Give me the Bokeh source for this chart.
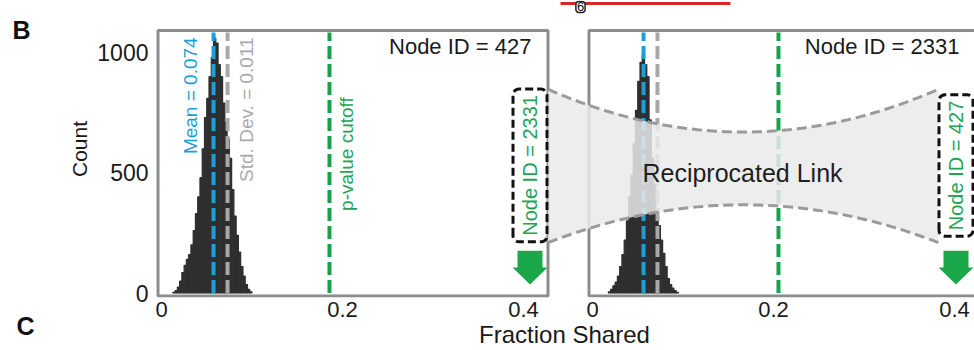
import math
from bokeh.plotting import figure
from bokeh.layouts import row
from bokeh.models import Range1d, FixedTicker, Label
from bokeh.core.properties import value
from bokeh.embed import file_html
from bokeh.resources import INLINE

# ---------------- data ----------------
bin_width = 0.0025
left_bin_starts = [0.0125, 0.015, 0.0175, 0.02, 0.0225, 0.025, 0.0275, 0.03, 0.0325, 0.035,
                   0.0375, 0.04, 0.0425, 0.045, 0.0475, 0.05, 0.0525, 0.055, 0.0575, 0.06,
                   0.0625, 0.065, 0.0675, 0.07, 0.0725, 0.075, 0.0775, 0.08, 0.0825, 0.085,
                   0.0875, 0.09, 0.0925, 0.095, 0.0975]
left_counts = [3, 10, 25, 50, 85, 115, 140, 160, 200, 260,
               330, 400, 480, 600, 730, 810, 900, 980, 1060, 1040,
               950, 900, 790, 710, 640, 560, 430, 320, 240, 170,
               110, 70, 35, 15, 5]
right_bin_starts = [0.0175, 0.02, 0.0225, 0.025, 0.0275, 0.03, 0.0325, 0.035, 0.0375, 0.04,
                    0.0425, 0.045, 0.0475, 0.05, 0.0525, 0.055, 0.0575, 0.06, 0.0625, 0.065,
                    0.0675, 0.07, 0.0725, 0.075, 0.0775, 0.08, 0.0825, 0.085, 0.0875, 0.09,
                    0.0925]
right_counts = [5, 15, 30, 45, 70, 110, 160, 220, 300, 400,
                490, 620, 760, 880, 960, 990, 950, 900, 720, 560,
                450, 340, 280, 220, 165, 110, 60, 35, 20, 10,
                3]

left_mean_x, left_sd_x, left_cutoff_x = 0.0575, 0.073, 0.1856
right_mean_x, right_sd_x, right_cutoff_x = 0.0564, 0.0718, 0.2055

x_ticks = [0.0, 0.2, 0.4]
x_tick_labels = ["0", "0.2", "0.4"]
y_ticks = [0, 500, 1000]

panel_titles = ["Node ID = 427", "Node ID = 2331"]
link_labels = ["Node ID = 2331", "Node ID = 427"]
mean_label = "Mean = 0.074"
sd_label = "Std. Dev. = 0.011"
cutoff_label = "p-value cutoff"

# ---------------- layout helpers (page pixels -> data) ----------------
LEFT_W = 50                   # width of the small letter strip
FRAME_BOTTOM = 298
X0_PX, SX = 161.0, 905.0      # page x of value 0 (left panel), px per unit
Y0_PX, SY = 293.5, 0.2412     # page y of count 0, px per count


def px2x(px):
    return (px - X0_PX) / SX


def py2y(py):
    return (Y0_PX - py) / SY


OFF = px2x(592)  # right panel origin

FONT = "Liberation Sans"
BLUE = "#1c9fd8"
GRAY = "#a8a8a8"
GREEN = "#18a14b"
DARK = "#2f2f2f"
FRAME = "#8c8c8c"

# ---------------- letter strip (B on top, C as its bottom title) ----------------
lf = figure(width=LEFT_W, height=350, x_range=Range1d(0, LEFT_W),
            y_range=Range1d(FRAME_BOTTOM, 0),
            min_border=0, min_border_bottom=350 - FRAME_BOTTOM, y_axis_type=None,
            output_backend="svg", toolbar_location=None,
            background_fill_color="white", border_fill_color="white",
            outline_line_color=None)
lf.grid.visible = False
lf.xaxis.ticker = FixedTicker(ticks=[])
lf.xaxis.axis_line_color = None
lf.xaxis.major_tick_line_color = None
lf.xaxis.minor_tick_line_color = None
lf.xaxis.major_tick_out = 0
lf.xaxis.minor_tick_out = 0
lf.xaxis.major_label_standoff = 0
lf.xaxis.axis_label = "C"
lf.xaxis.axis_label_text_font = FONT
lf.xaxis.axis_label_text_font_size = "25px"
lf.xaxis.axis_label_text_font_style = "bold"
lf.xaxis.axis_label_text_color = "#111111"
lf.xaxis.axis_label_standoff = 14
lf.text(x=[12], y=[30], text=["B"], text_align="left",
        text_baseline="alphabetic", text_color="#111111", text_font=value(FONT),
        text_font_size="25px", text_font_style="bold")

# ---------------- main figure ----------------
p = figure(width=974 - LEFT_W, height=350,
           x_range=Range1d(px2x(154), px2x(974)),
           y_range=Range1d(py2y(FRAME_BOTTOM), py2y(0)),
           min_border_left=154 - LEFT_W, min_border_right=0,
           min_border_top=0, min_border_bottom=350 - FRAME_BOTTOM,
           output_backend="svg", toolbar_location=None,
           background_fill_color="white", border_fill_color="white",
           outline_line_color=None)
p.grid.visible = False

tick_pos = [t for t in x_ticks] + [OFF + t for t in x_ticks]
p.xaxis.ticker = FixedTicker(ticks=tick_pos)
p.xaxis.major_label_overrides = {pos: lab for pos, lab in zip(tick_pos, x_tick_labels * 2)}
p.yaxis.ticker = FixedTicker(ticks=y_ticks)
p.yaxis.axis_label = "Count"
p.xaxis.axis_label = "Fraction Shared"
for ax in (p.xaxis[0], p.yaxis[0]):
    ax.axis_line_color = None
    ax.major_tick_line_color = None
    ax.minor_tick_line_color = None
    ax.major_tick_out = 0
    ax.major_tick_in = 0
    ax.minor_tick_out = 0
    ax.minor_tick_in = 0
    ax.major_label_text_font = FONT
    ax.major_label_text_color = "#1a1a1a"
    ax.axis_label_text_font = FONT
    ax.axis_label_text_font_style = "normal"
    ax.axis_label_text_color = "#1a1a1a"
p.yaxis.major_label_text_font_size = "23px"
p.xaxis.major_label_text_font_size = "22px"
p.xaxis.major_label_standoff = 4
p.yaxis.major_label_standoff = 6
p.yaxis.axis_label_text_font_size = "21px"
p.yaxis.axis_label_standoff = 3
p.xaxis.axis_label_text_font_size = "24px"
p.xaxis.axis_label_standoff = 1

# fragment of the panel above (red link with label 6)
p.segment(x0=[px2x(560)], y0=[py2y(3)], x1=[px2x(730)], y1=[py2y(3)],
          line_color="#d42a2a", line_width=3)
p.add_layout(Label(x=px2x(580), y=py2y(6.5), text="6", text_align="center",
                   text_baseline="middle", text_font=FONT, text_font_size="13px",
                   text_color="#111111", background_fill_color="white",
                   border_line_color="#222222", border_line_width=1.5,
                   border_radius=3, padding=1))

# histograms
p.quad(left=left_bin_starts, right=[b + bin_width for b in left_bin_starts],
       bottom=0, top=left_counts, fill_color=DARK, line_color=DARK, line_width=1.2)
p.quad(left=[OFF + b for b in right_bin_starts],
       right=[OFF + b + bin_width for b in right_bin_starts],
       bottom=0, top=right_counts, fill_color=DARK, line_color=DARK, line_width=1.2)

# vertical reference lines
ytop = py2y(32)
for xs, col in (([left_sd_x, OFF + right_sd_x], GRAY),
                ([left_mean_x, OFF + right_mean_x], BLUE),
                ([left_cutoff_x, OFF + right_cutoff_x], GREEN)):
    p.segment(x0=xs, y0=[0, 0], x1=xs, y1=[ytop, ytop], line_color=col,
              line_width=4, line_dash="13 5")

# panel frames
p.quad(left=[px2x(157.5), px2x(588.5)], right=[px2x(547.5), px2x(978.5)],
       bottom=[py2y(296.5)] * 2, top=[py2y(30)] * 2,
       fill_color=None, line_color=FRAME, line_width=3)

# reciprocated link band
n = 60
xb0, xb1 = 547.5, 938.0
ux, uy, lx, ly = [], [], [], []
for i in range(n + 1):
    t = i / n
    px = xb0 + (xb1 - xb0) * t
    bump = 4 * t * (1 - t)
    ux.append(px2x(px))
    uy.append(py2y(89 + (132 - 89) * bump))
    lx.append(px2x(px))
    ly.append(py2y(243 + (205 - 243) * bump))
p.patch(x=ux + lx[::-1], y=uy + ly[::-1], fill_color="#eaeaea", fill_alpha=0.85,
        line_color=None)
p.line(x=ux, y=uy, line_color="#9a9a9a", line_width=3, line_dash="10 5")
p.line(x=lx, y=ly, line_color="#9a9a9a", line_width=3, line_dash="10 5")

# green arrows below the link boxes
arrow_xs, arrow_ys = [], []
for cx in (529.5, 955.5):
    pts = [(cx - 12.5, 251), (cx + 12.5, 251), (cx + 12.5, 268), (cx + 17.5, 268),
           (cx, 285), (cx - 17.5, 268), (cx - 12.5, 268)]
    arrow_xs.append([px2x(a) for a, _ in pts])
    arrow_ys.append([py2y(b) for _, b in pts])
p.patches(xs=arrow_xs, ys=arrow_ys, fill_color="#1aa84a", line_color=None)

# rotated annotations
half_pi = math.pi / 2
p.text(x=[px2x(190)], y=[py2y(37)], text=[mean_label], angle=half_pi,
       text_align="right", text_baseline="middle", text_color=BLUE,
       text_font=value(FONT), text_font_size="19px")
p.text(x=[px2x(246)], y=[py2y(37)], text=[sd_label], angle=half_pi,
       text_align="right", text_baseline="middle", text_color="#aaaaaa",
       text_font=value(FONT), text_font_size="19px")
p.text(x=[px2x(346)], y=[py2y(97)], text=[cutoff_label], angle=half_pi,
       text_align="right", text_baseline="middle", text_color="#22a356",
       text_font=value(FONT), text_font_size="19px")

# panel titles
p.text(x=[px2x(531), px2x(959)], y=[py2y(46)] * 2, text=panel_titles,
       text_align="right", text_baseline="middle", text_color="#1a1a1a",
       text_font=value(FONT), text_font_size="22px")

p.text(x=[px2x(742)], y=[py2y(173)], text=["Reciprocated Link"],
       text_align="center", text_baseline="middle", text_color="#1e1e1e",
       text_font=value(FONT), text_font_size="25px")

# dashed boxes with link ids
for cx, lab in zip((529.5, 955.5), link_labels):
    p.add_layout(Label(x=px2x(cx), y=py2y(165.5), text=lab, angle=half_pi,
                       text_align="center", text_baseline="middle",
                       text_color="#22a356", text_font=FONT, text_font_size="20px",
                       border_line_color="#111111", border_line_width=3,
                       border_line_dash="8 4", border_radius=6, padding=6))

layout = row(lf, p, spacing=0)
open("out.html", "w").write(file_html(layout, INLINE))
